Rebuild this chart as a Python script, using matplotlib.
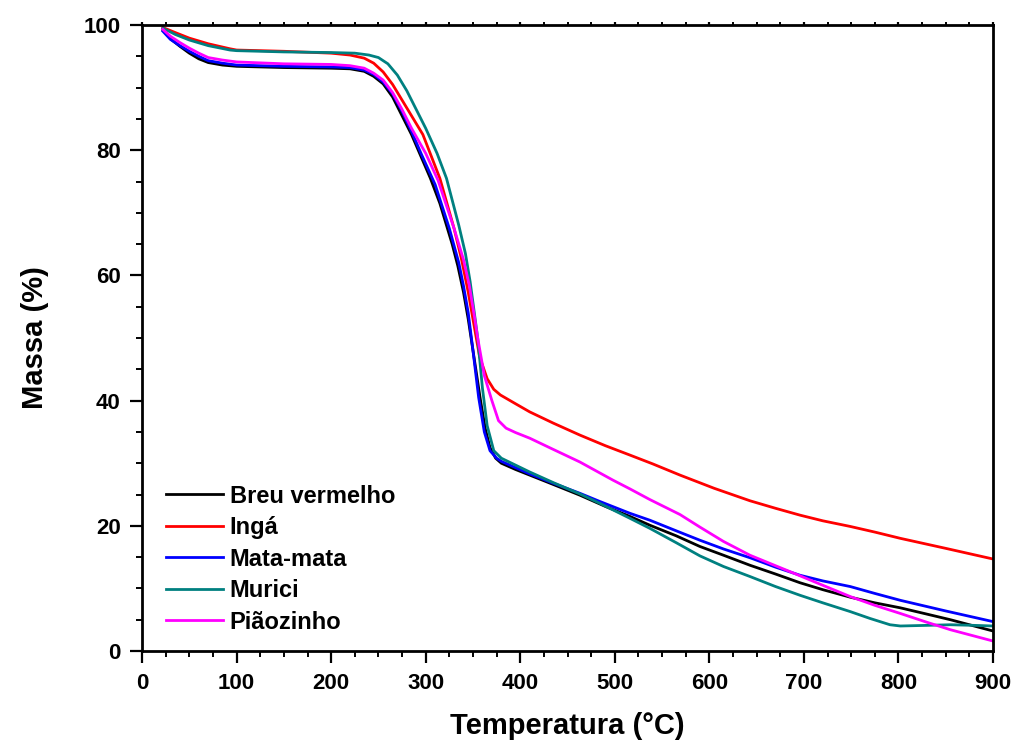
import matplotlib.pyplot as plt
import numpy as np
from matplotlib.ticker import MultipleLocator

plt.rcParams['font.family'] = ['Liberation Sans', 'DejaVu Sans']
plt.rcParams['font.weight'] = 'bold'

# temperature (C) / mass (%)
breuT = [22, 30, 40, 50, 60, 70, 85, 100, 150, 200, 220, 235, 245, 255, 265, 275, 285, 295, 305, 315, 328, 334, 340, 345, 352, 358, 363, 368, 374, 380, 395, 410, 435, 463, 490, 516, 537, 565, 590, 615, 643, 670, 696, 720, 749, 775, 802, 830, 855, 880, 900]
breuM = [99.2, 97.8, 96.6, 95.5, 94.6, 94.0, 93.6, 93.4, 93.2, 93.1, 93.0, 92.6, 91.8, 90.6, 88.5, 85.5, 82.5, 79.0, 75.5, 71.5, 65.0, 61.5, 57.3, 53.0, 46.0, 40.0, 35.5, 32.5, 30.8, 30.0, 29.0, 28.1, 26.6, 24.9, 23.1, 21.5, 20.1, 18.4, 16.7, 15.3, 13.7, 12.3, 10.9, 9.8, 8.6, 7.7, 6.9, 5.9, 5.0, 4.0, 3.2]

ingaT = [22, 35, 50, 70, 93, 100, 150, 200, 220, 235, 245, 255, 265, 275, 285, 297, 315, 330, 338, 345, 350, 357, 365, 372, 379, 395, 410, 435, 463, 490, 516, 540, 569, 605, 643, 670, 696, 720, 749, 775, 802, 850, 900]
ingaM = [99.6, 98.8, 97.9, 97.0, 96.2, 96.0, 95.8, 95.5, 95.2, 94.7, 93.9, 92.5, 90.5, 88.0, 85.5, 82.5, 75.5, 67.5, 62.5, 57.3, 53.0, 47.0, 43.5, 41.8, 40.9, 39.5, 38.2, 36.4, 34.5, 32.8, 31.3, 29.9, 28.1, 26.0, 24.0, 22.8, 21.7, 20.8, 19.9, 19.0, 18.0, 16.4, 14.7]

mataT = [22, 30, 40, 50, 60, 70, 85, 100, 150, 200, 220, 235, 245, 255, 265, 275, 285, 295, 310, 325, 335, 340, 345, 350, 356, 362, 368, 375, 380, 395, 410, 435, 463, 484, 516, 537, 565, 590, 615, 643, 670, 696, 720, 749, 775, 802, 850, 900]
mataM = [99.0, 97.7, 96.7, 95.8, 95.0, 94.3, 93.9, 93.6, 93.4, 93.3, 93.2, 92.8, 92.1, 90.9, 89.0, 86.2, 83.0, 79.5, 74.5, 67.5, 62.0, 58.3, 54.0, 48.0, 40.5, 35.0, 32.0, 30.8, 30.3, 29.3, 28.3, 26.8, 25.2, 23.9, 22.0, 20.9, 19.2, 17.7, 16.3, 14.9, 13.4, 12.1, 11.2, 10.3, 9.2, 8.1, 6.4, 4.7]

muriciT = [22, 35, 50, 70, 93, 100, 150, 200, 225, 240, 250, 260, 270, 280, 290, 300, 312, 322, 335, 342, 347, 355, 360, 365, 372, 380, 395, 410, 435, 463, 484, 516, 537, 565, 590, 615, 643, 670, 696, 720, 749, 770, 791, 802, 830, 855, 880, 900]
muriciM = [99.5, 98.5, 97.6, 96.7, 96.0, 95.9, 95.7, 95.6, 95.5, 95.2, 94.8, 93.8, 92.0, 89.5, 86.5, 83.5, 79.5, 75.5, 68.0, 63.5, 59.0, 50.0, 42.0, 36.0, 32.0, 30.8, 29.7, 28.6, 26.9, 25.1, 23.6, 21.2, 19.6, 17.3, 15.2, 13.5, 11.9, 10.3, 8.9, 7.7, 6.3, 5.2, 4.2, 4.0, 4.1, 4.2, 4.1, 4.0]

piaoT = [22, 30, 40, 50, 60, 70, 85, 100, 150, 200, 220, 235, 245, 255, 265, 275, 285, 300, 313, 330, 340, 346, 352, 355, 362, 370, 377, 385, 395, 410, 435, 463, 498, 516, 537, 569, 590, 615, 643, 685, 720, 749, 775, 802, 830, 855, 880, 900]
piaoM = [99.3, 98.2, 97.2, 96.3, 95.5, 94.8, 94.4, 94.1, 93.8, 93.7, 93.5, 93.1, 92.3, 91.2, 89.2, 86.5, 83.5, 79.5, 75.2, 67.5, 62.5, 58.5, 53.0, 50.0, 44.0, 40.0, 36.8, 35.6, 34.9, 34.0, 32.2, 30.2, 27.3, 25.9, 24.2, 21.8, 19.8, 17.5, 15.3, 12.7, 10.5, 8.7, 7.3, 6.0, 4.6, 3.4, 2.4, 1.6]

names = ["Breu vermelho", "Ingá", "Mata-mata", "Murici", "Piãozinho"]
colors = ["#000000", "#FF0000", "#0000FF", "#008080", "#FF00FF"]
temps = [breuT, ingaT, mataT, muriciT, piaoT]
masses = [breuM, ingaM, mataM, muriciM, piaoM]

fig = plt.figure(figsize=(10.19, 7.46), dpi=100)
ax = fig.add_axes([0.1394, 0.1273, 0.8351, 0.8392])

for T, M, name, c in zip(temps, masses, names, colors):
    ax.plot(T, M, color=c, linewidth=2.0, label=name, solid_joinstyle='round')

ax.set_xlim(0, 900)
ax.set_ylim(0, 100)
ax.xaxis.set_major_locator(MultipleLocator(100))
ax.xaxis.set_minor_locator(MultipleLocator(25))
ax.yaxis.set_major_locator(MultipleLocator(20))
ax.yaxis.set_minor_locator(MultipleLocator(5))

for s in ax.spines.values():
    s.set_linewidth(2)

ax.tick_params(which='major', direction='out', length=8.5, width=1.6, labelsize=16, pad=7)
ax.tick_params(which='minor', direction='out', length=4, width=1.4)
ax.tick_params(axis='x', which='both', top=True, bottom=True)
# top ticks are only tiny marks
for t in ax.xaxis.get_ticklines(minor=False)[1::2] + ax.xaxis.get_ticklines(minor=True)[1::2]:
    t.set_markersize(2)

ax.set_xlabel("Temperatura (°C)", fontsize=21, fontweight='bold', labelpad=13)
ax.set_ylabel("Massa (%)", fontsize=21, fontweight='bold', labelpad=25)

ax.legend(loc='lower left', bbox_to_anchor=(0.028, 0.028), frameon=False,
          prop={'size': 17, 'weight': 'bold'}, handlelength=2.4, handletextpad=0.3,
          labelspacing=0.36, borderpad=0, borderaxespad=0)

plt.savefig("out.png", dpi=100)
